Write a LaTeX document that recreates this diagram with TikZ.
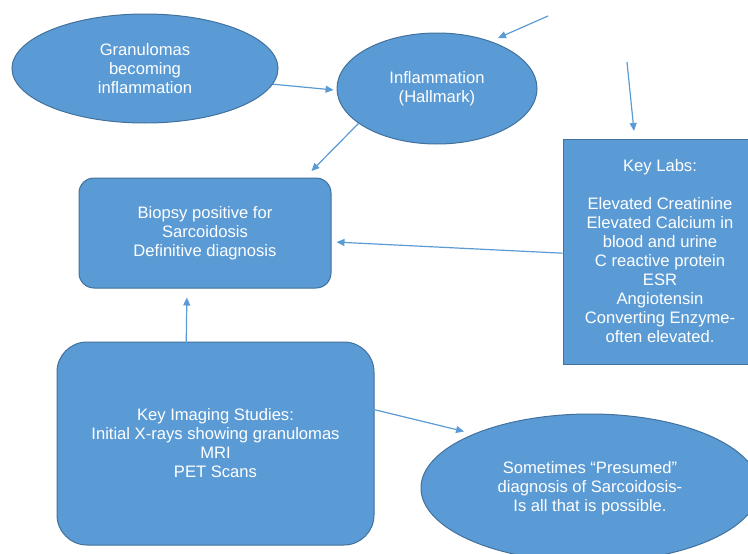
\documentclass[tikz,border=0pt]{standalone}
\usepackage{fontspec}
\setmainfont{Liberation Sans}
\usetikzlibrary{shapes.geometric,arrows.meta}
\definecolor{boxfill}{HTML}{5B9BD5}
\definecolor{boxline}{HTML}{41719C}
\definecolor{arrowc}{HTML}{5B9BD5}
\tikzset{
  base/.style={fill=boxfill,draw=boxline,line width=1pt,text=white,align=center,inner sep=0pt,
    font=\fontsize{16.6}{19}\selectfont},
  oval/.style={base,ellipse},
  rbox/.style={base,rectangle},
  conn/.style={draw=arrowc,line width=1.2pt,-{Triangle[length=8pt,width=7pt]}}
}
\begin{document}
\begin{tikzpicture}[x=1pt,y=-1pt]
\useasboundingbox (0,0) rectangle (748,554);
\clip (0,0) rectangle (748,554);
\node[oval,minimum width=266pt,minimum height=109pt] (gran) at (145,68.5) {Granulomas\\becoming\\inflammation};
\node[oval,minimum width=200pt,minimum height=111pt] (infl) at (437,88.5) {Inflammation\\(Hallmark)};
\node[rbox,rounded corners=15pt,minimum width=252pt,minimum height=110pt] (bio) at (205,233) {Biopsy positive for\\Sarcoidosis\\Definitive diagnosis};
\node[rbox,minimum width=194pt,minimum height=225pt] (labs) at (660,251.5) {Key Labs:\\[19pt]Elevated Creatinine\\Elevated Calcium in\\blood and urine\\C reactive protein\\ESR\\Angiotensin\\Converting Enzyme-\\often elevated.};
\node[rbox,rounded corners=30pt,minimum width=317pt,minimum height=203pt] (img) at (215.5,443.5) {Key Imaging Studies:\\Initial X-rays showing granulomas\\MRI\\PET Scans};
\node[oval,minimum width=338pt,minimum height=148pt] (pres) at (590,488) {Sometimes \textquotedblleft Presumed\textquotedblright\\diagnosis of Sarcoidosis-\\Is all that is possible.};
\coordinate (f1s) at (548,16);
\coordinate (f1e) at (498,38);
\coordinate (f2s) at (627,62);
\coordinate (f2e) at (634,131);
\draw[conn,shorten >=3pt] (gran.-7.5) -- (infl.181);
\draw[conn,shorten >=9pt] (infl.204) -- (bio.29.6);
\draw[conn] (f1s) -- (f1e);
\draw[conn] (f2s) -- (f2e);
\draw[conn,shorten >=5pt] (labs.181) -- (bio.-4.9);
\draw[conn,shorten <=-4pt,shorten >=9pt] (img.106.7) -- (bio.252.3);
\draw[conn,shorten <=-4pt,shorten >=10pt] (img.12.6) -- (pres.155.6);
\end{tikzpicture}
\end{document}
